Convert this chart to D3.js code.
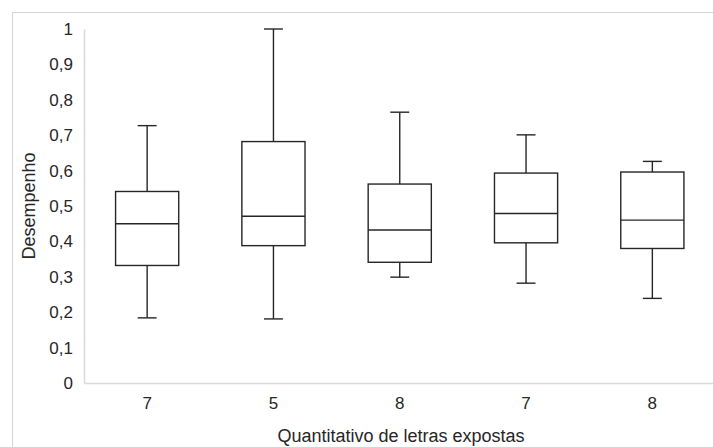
<!DOCTYPE html>
<html>
<head>
<meta charset="utf-8">
<script src="https://cdn.jsdelivr.net/npm/d3@7"></script>
<style>
  body { margin: 0; background: #fff; }
  text { font-family: "Liberation Sans", Arial, sans-serif; fill: #262626; }
</style>
</head>
<body>
<div id="chart"></div>
<script>
// box plot values
var categories = ["7", "5", "8", "7", "8"];
var mins    = [0.184, 0.181, 0.299, 0.282, 0.239];
var q1s     = [0.332, 0.388, 0.341, 0.396, 0.380];
var medians = [0.450, 0.471, 0.432, 0.479, 0.460];
var q3s     = [0.541, 0.682, 0.562, 0.593, 0.596];
var maxs    = [0.727, 1.000, 0.765, 0.701, 0.626];
var yTicks  = [0, 0.1, 0.2, 0.3, 0.4, 0.5, 0.6, 0.7, 0.8, 0.9, 1];

var width = 713;
var height = 447;
var plotLeft = 84, plotRight = 715.5, plotTop = 29, plotBottom = 383;

var boxes = categories.map(function (c, i) {
    return { key: i, label: c, min: mins[i], q1: q1s[i], med: medians[i], q3: q3s[i], max: maxs[i] };
});

var svg = d3.select("#chart")
    .append("svg")
    .attr("width", width)
    .attr("height", height);

// outer frame (runs off the right and bottom edges)
svg.append("rect")
    .attr("x", 12.5)
    .attr("y", 12.5)
    .attr("width", 760)
    .attr("height", 500)
    .attr("fill", "none")
    .attr("stroke", "#d4d4d4")
    .attr("stroke-width", 1);

var x = d3.scaleBand()
    .domain(boxes.map(function (d) { return d.key; }))
    .range([plotLeft, plotRight])
    .padding(0);

var y = d3.scaleLinear()
    .domain([0, 1])
    .range([plotBottom, plotTop]);

var comma = d3.formatLocale({ decimal: ",", thousands: ".", grouping: [3], currency: ["", ""] }).format("~g");

var yAxis = svg.append("g")
    .attr("transform", "translate(" + plotLeft + ",0)")
    .call(d3.axisLeft(y).tickValues(yTicks).tickFormat(comma).tickSize(0).tickPadding(11));

var xAxis = svg.append("g")
    .attr("transform", "translate(0," + plotBottom + ")")
    .call(d3.axisBottom(x).tickFormat(function (k) { return categories[k]; }).tickSize(0).tickPadding(14));

[yAxis, xAxis].forEach(function (g) {
    g.select(".domain").attr("stroke", "#d9d9d9").attr("stroke-width", 1.5);
    g.selectAll("text")
        .style("font-family", "'Liberation Sans', Arial, sans-serif")
        .style("font-size", "17px")
        .attr("fill", "#262626");
});

var bw = x.bandwidth();
var boxW = bw * 0.5;
var capW = bw * 0.15;

var g = svg.selectAll(".box")
    .data(boxes)
    .enter()
    .append("g")
    .attr("class", "box")
    .attr("transform", function (d) { return "translate(" + (x(d.key) + bw / 2) + ",0)"; })
    .attr("stroke", "#262626")
    .attr("stroke-width", 1.4)
    .attr("fill", "none");

// whiskers
g.append("line")
    .attr("x1", 0).attr("x2", 0)
    .attr("y1", function (d) { return y(d.max); })
    .attr("y2", function (d) { return y(d.q3); });
g.append("line")
    .attr("x1", 0).attr("x2", 0)
    .attr("y1", function (d) { return y(d.q1); })
    .attr("y2", function (d) { return y(d.min); });
g.append("line")
    .attr("x1", -capW / 2).attr("x2", capW / 2)
    .attr("y1", function (d) { return y(d.max); })
    .attr("y2", function (d) { return y(d.max); });
g.append("line")
    .attr("x1", -capW / 2).attr("x2", capW / 2)
    .attr("y1", function (d) { return y(d.min); })
    .attr("y2", function (d) { return y(d.min); });

g.append("rect")
    .attr("x", -boxW / 2)
    .attr("width", boxW)
    .attr("y", function (d) { return y(d.q3); })
    .attr("height", function (d) { return y(d.q1) - y(d.q3); })
    .attr("fill", "#fff");

g.append("line")
    .attr("x1", -boxW / 2).attr("x2", boxW / 2)
    .attr("y1", function (d) { return y(d.med); })
    .attr("y2", function (d) { return y(d.med); });

svg.append("text")
    .attr("x", 401)
    .attr("y", 442)
    .attr("text-anchor", "middle")
    .style("font-size", "18px")
    .text("Quantitativo de letras expostas");

svg.append("text")
    .attr("transform", "translate(35,206) rotate(-90)")
    .attr("text-anchor", "middle")
    .style("font-size", "18px")
    .text("Desempenho");
</script>
</body>
</html>
